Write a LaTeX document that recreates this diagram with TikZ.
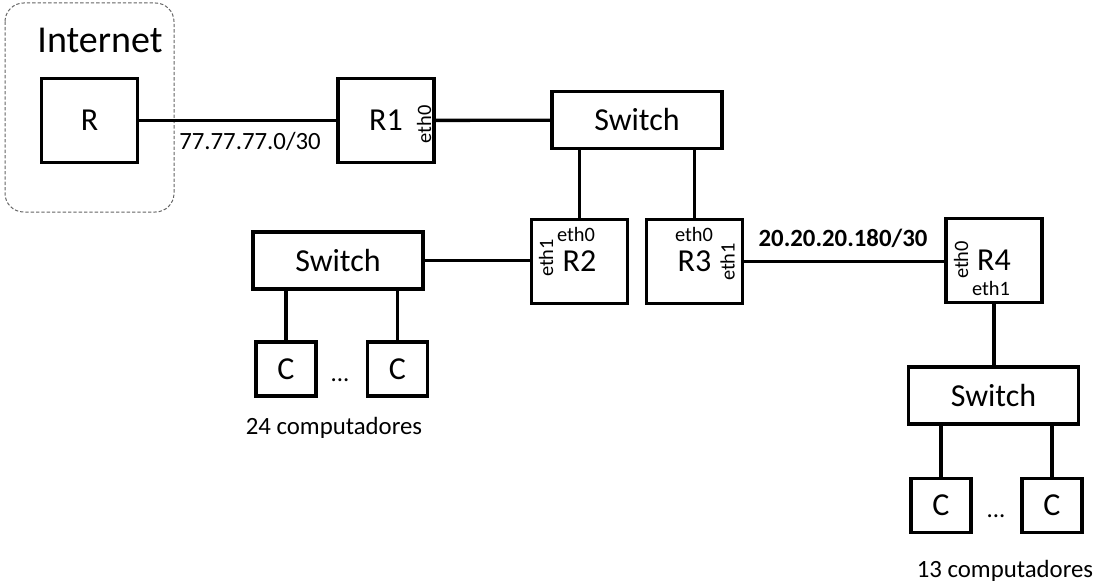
\documentclass[tikz,border=0pt]{standalone}
\usepackage{fontspec}
\setmainfont{Carlito}
\usepackage{tikz}

\tikzset{
  box/.style={draw, line width=2.6pt, inner sep=0pt, font=\fontsize{24}{28}\selectfont},
  router/.style={box, minimum width=72pt, minimum height=63pt},
  switchbox/.style={box, minimum width=127.5pt, minimum height=42.75pt},
  pc/.style={box, minimum width=45pt, minimum height=40.5pt},
  link/.style={line width=2.5pt},
  iface/.style={inner sep=0pt, font=\fontsize{15.3}{18}\selectfont},
  note/.style={inner sep=0pt, anchor=base, font=\fontsize{18.6}{22}\selectfont},
}

\begin{document}
\begin{tikzpicture}[x=0.75pt,y=0.75pt,yscale=-1,xscale=1]
\useasboundingbox (0,0) rectangle (1098,585);

%Shape: Rounded Rectangle [Internet]
\draw [color={rgb, 255:red, 100; green, 100; blue, 100 }, line width=0.75, dash pattern=on 2.5pt off 1.5pt, rounded corners=14pt] (5,3) rectangle (174,212);

%Shape: Routers
\node [router] (r) at (89.5,120.5) {R};
\node [router] (r1) at (386,120.5) {R1};
\node [router] (r2) at (579.5,261.5) {R2};
\node [router] (r3) at (694.5,261.5) {R3};
\node [router] (r4) at (994,260.5) {R4};

%Shape: Switches
\node [switchbox] (swa) at (637,120) {Switch};
\node [switchbox] (swb) at (338,260.5) {Switch};
\node [switchbox] (swc) at (993.5,395.5) {Switch};

%Shape: Computers
\node [pc] (cb1) at (286,369) {C};
\node [pc] (cb2) at (397.5,369) {C};
\node [pc] (cc1) at (941,505.5) {C};
\node [pc] (cc2) at (1052,505.5) {C};

%Straight Lines
\draw [link] (r) -- (r1);
\draw [link] (r1) -- (swa);
\draw [link] (r2.north) -- (r2.north |- swa.south);
\draw [link] (r3.north) -- (r3.north |- swa.south);
\draw [link] (swb.east) -- (swb.east -| r2.west);
\draw [link] (r3.east) -- (r3.east -| r4.west);
\draw [link] (r4.south) -- (r4.south |- swc.north);
\draw [link] (cb1.north) -- (cb1.north |- swb.south);
\draw [link] (cb2.north) -- (cb2.north |- swb.south);
\draw [link] (cc1.north) -- (cc1.north |- swc.south);
\draw [link] (cc2.north) -- (cc2.north |- swc.south);

% Text Node
\node [inner sep=0pt, anchor=base, font=\fontsize{28.5}{34}\selectfont] (inet) at (100,53) {Internet};
% Text Node
\node [note] (neta) at (250,149) {77.77.77.0/30};
% Text Node
\node [note, font=\fontsize{18.6}{22}\selectfont\bfseries] (netb) at (843,246) {20.20.20.180/30};
% Text Node
\node [note] (nb) at (334,434) {24 computadores};
% Text Node
\node [note] (nc) at (1005,577) {13 computadores};
% Text Node
\node [note] (dotsb) at (340,381) {...};
% Text Node
\node [note] (dotsc) at (996,517) {...};

% Interface labels
\node [iface, rotate=90] (r1e0) at (424,124.5) {eth0};
\node [iface, rotate=90] (r2e1) at (546,258) {eth1};
\node [iface] (r2e0) at (576,234) {eth0};
\node [iface] (r3e0) at (694,234) {eth0};
\node [iface, rotate=90] (r3e1) at (727.5,262) {eth1};
\node [iface, rotate=90] (r4e0) at (961,260) {eth0};
\node [iface] (r4e1) at (991,288) {eth1};

\end{tikzpicture}
\end{document}
